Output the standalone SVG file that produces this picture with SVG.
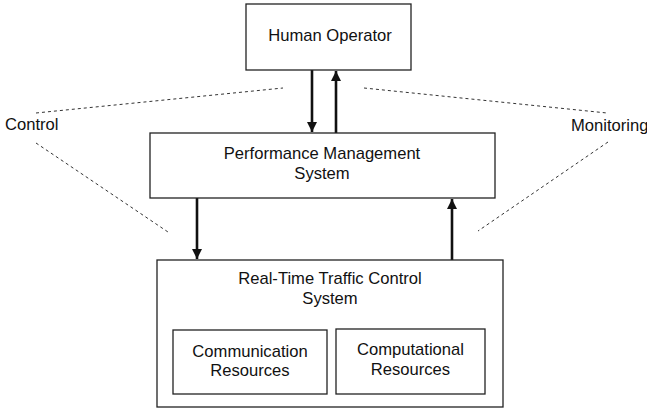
<svg xmlns="http://www.w3.org/2000/svg" width="647" height="408" viewBox="0 0 647 408">
<defs>
<style>
.box{fill:#fff;stroke:#222;stroke-width:1.3}
.t{font-family:"Liberation Sans",Arial,sans-serif;font-size:16.6px;fill:#111;text-anchor:middle}
.tl{font-family:"Liberation Sans",Arial,sans-serif;font-size:16.6px;fill:#111}
.arr{stroke:#111;stroke-width:2.6;fill:none;marker-end:url(#ah)}
.dot{stroke:#333;stroke-width:1;stroke-dasharray:3,3;fill:none}
</style>
<marker id="ah" viewBox="0 0 10 14" refX="10" refY="7" markerWidth="10" markerHeight="14" markerUnits="userSpaceOnUse" orient="auto">
<path d="M0,2 L10,7 L0,12 Z" fill="#111"/>
</marker>
</defs>
<g id="connectors">
<line class="arr" x1="312" y1="70" x2="312" y2="132"/>
<line class="arr" x1="336" y1="133" x2="336" y2="71"/>
<line class="arr" x1="197" y1="198" x2="197" y2="259"/>
<line class="arr" x1="452" y1="260" x2="452" y2="199"/>
<line class="dot" x1="36" y1="113" x2="283" y2="88"/>
<line class="dot" x1="36" y1="143" x2="168" y2="232"/>
<line class="dot" x1="364" y1="88" x2="607" y2="113"/>
<line class="dot" x1="608" y1="142" x2="478" y2="231"/>
</g>
<g id="human-operator">
<rect class="box" x="246" y="4" width="165" height="66"/>
<text class="t" x="330" y="41">Human Operator</text>
</g>
<g id="performance-management">
<rect class="box" x="150" y="133" width="345" height="65"/>
<text class="t" x="322" y="159">Performance Management</text>
<text class="t" x="322" y="179">System</text>
</g>
<g id="rttc">
<rect class="box" x="157" y="260" width="346" height="147"/>
<text class="t" x="330" y="284">Real-Time Traffic Control</text>
<text class="t" x="330" y="304">System</text>
</g>
<g id="communication">
<rect class="box" x="173" y="330" width="154" height="64"/>
<text class="t" x="250" y="357">Communication</text>
<text class="t" x="250" y="376">Resources</text>
</g>
<g id="computational">
<rect class="box" x="336" y="329" width="149" height="65"/>
<text class="t" x="410.5" y="355">Computational</text>
<text class="t" x="410.5" y="375">Resources</text>
</g>
<g id="control-label">
<text class="tl" x="5" y="130">Control</text>
</g>
<g id="monitoring-label">
<text class="tl" x="571" y="131">Monitoring</text>
</g>
</svg>
